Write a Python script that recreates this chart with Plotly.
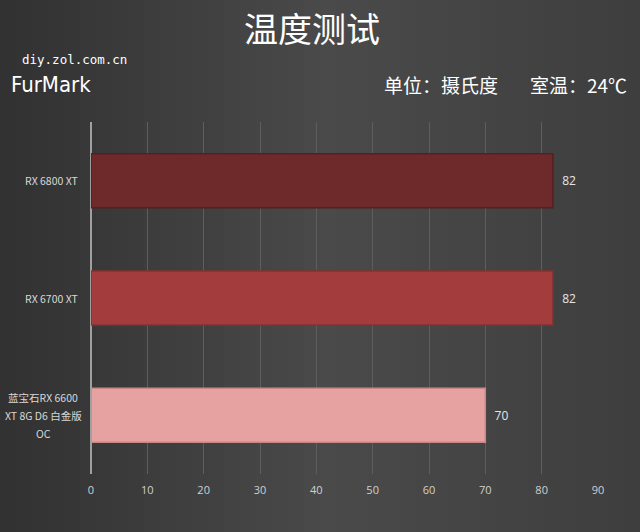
import plotly.graph_objects as go

categories = ["RX 6800 XT", "RX 6700 XT", "蓝宝石RX 6600<br>XT 8G D6 白金版<br>OC"]
values = [82, 82, 70]
bar_colors = ["#6e2a2b", "#a33d3d", "#e6a1a1"]
line_colors = ["#561f20", "#873030", "#c88787"]
tick_vals = [0, 10, 20, 30, 40, 50, 60, 70, 80, 90]

W, HT = 640, 532
ML, MR, MT, MB = 91, 42, 122, 58
PW = W - ML - MR
PH = HT - MT - MB

def px(xpix):
    return (xpix - ML) / PW

def py(ypix):
    return (HT - MB - ypix) / PH

fig = go.Figure()
fig.add_trace(go.Bar(
    x=values, y=categories, orientation="h",
    marker=dict(color=bar_colors, line=dict(color=line_colors, width=1.5)),
    width=0.46,
    text=["  " + str(v) for v in values], textposition="outside",
    textfont=dict(color="#e6e6e6", size=12, family="Open Sans, sans-serif"),
    cliponaxis=False,
))

def bg_color(xc):
    if xc < 330:
        t = xc / 330
        v = 0x31 + (0x4a - 0x31) * t
    else:
        t = (xc - 330) / (W - 330)
        v = 0x4a + (0x3e - 0x4a) * t
    v = int(round(v))
    return f"rgb({v},{v},{v})"

shapes = []
step = 16
for i in range(0, W, step):
    shapes.append(dict(type="rect", xref="paper", yref="paper", layer="below",
                       x0=px(i), x1=px(i + step + 1), y0=py(HT + 2), y1=py(-2),
                       line=dict(width=0), fillcolor=bg_color(i + step / 2)))

fig.update_layout(
    width=W, height=HT,
    margin=dict(l=ML, r=MR, t=MT, b=MB, autoexpand=False),
    paper_bgcolor="#414141", plot_bgcolor="rgba(0,0,0,0)",
    showlegend=False,
    shapes=shapes,
    font=dict(family="Open Sans, Noto Sans CJK SC, sans-serif", color="#d8d8d8"),
    xaxis=dict(range=[0, 90], tickvals=tick_vals, showgrid=True, gridcolor="#5e5e5e",
               gridwidth=1, zeroline=True, zerolinecolor="#a0a0a0", zerolinewidth=1.5,
               tickfont=dict(size=11, color="#d0d0d0"), ticks="", ticklabelstandoff=8,
               showline=False, fixedrange=True, automargin=False),
    yaxis=dict(categoryorder="array", categoryarray=categories, autorange="reversed",
               showticklabels=False, automargin=False,
               ticks="", showgrid=False, zeroline=False, fixedrange=True),
)

# category labels, drawn line by line at each category's position on the y axis
LINE_H = 18
for cat in categories:
    lines = cat.split("<br>")
    n = len(lines)
    for k, ln in enumerate(lines):
        if n == 1:
            xa, xp = "right", px(80)
        else:
            xa, xp = "center", px(43)
        fig.add_annotation(text=ln, x=xp, y=cat, xref="paper", yref="y", showarrow=False,
                           xanchor=xa, yanchor="middle", yshift=((n - 1) / 2 - k) * LINE_H,
                           font=dict(size=10.5, color="#d8d8d8", family="Noto Sans CJK SC, sans-serif"))

fig.add_annotation(text="温度测试", x=px(312), y=py(28), xref="paper", yref="paper", showarrow=False,
                   font=dict(size=34, color="#ffffff", family="Noto Sans CJK SC"), xanchor="center", yanchor="middle")
fig.add_annotation(text="diy.zol.com.cn", x=px(20), y=py(59), xref="paper", yref="paper", showarrow=False,
                   font=dict(size=12.5, color="#ffffff", family="DejaVu Sans Mono"), xanchor="left", yanchor="middle")
fig.add_annotation(text="FurMark", x=px(9), y=py(84), xref="paper", yref="paper", showarrow=False,
                   font=dict(size=22, color="#ffffff", family="Liberation Sans Narrow, DejaVu Sans Condensed, sans-serif"),
                   xanchor="left", yanchor="middle")
fig.add_annotation(text="单位：摄氏度", x=px(382), y=py(84), xref="paper", yref="paper", showarrow=False,
                   font=dict(size=19, color="#ffffff", family="Noto Sans CJK SC"), xanchor="left", yanchor="middle")
fig.add_annotation(text="室温：24℃", x=px(629), y=py(84), xref="paper", yref="paper", showarrow=False,
                   font=dict(size=19, color="#ffffff", family="Noto Sans CJK SC"), xanchor="right", yanchor="middle")

fig.write_html("out.html", config={"displayModeBar": False},
               post_script="document.body.style.margin='0';")
